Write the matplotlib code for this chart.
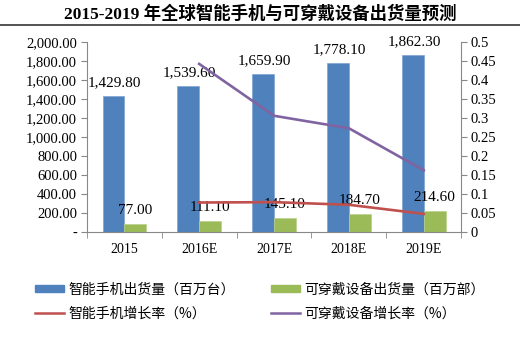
import matplotlib.pyplot as plt
import matplotlib.lines as mlines
import matplotlib.patches as mpatches
import numpy as np

plt.rcParams['font.family'] = ['Liberation Serif', 'Noto Sans CJK SC']

# data
years = ['2015', '2016E', '2017E', '2018E', '2019E']
phone_ship = [1429.8, 1539.6, 1659.9, 1778.1, 1862.3]
wear_ship = [77.0, 111.1, 145.1, 184.7, 214.6]
phone_growth = [None, 0.077, 0.078, 0.071, 0.047]
wear_growth = [None, 0.443, 0.306, 0.273, 0.162]

blue = '#4F81BD'
green = '#9BBB59'
red = '#C0504D'
purple = '#8064A2'

fig = plt.figure(figsize=(5.2, 3.37), dpi=100)
fig.text(0.5, 0.958, '2015-2019 年全球智能手机与可穿戴设备出货量预测', ha='center', va='center',
         fontsize=12.5, fontweight='bold', family=['Liberation Serif', 'Noto Sans CJK SC'])
fig.add_artist(mlines.Line2D([0, 1], [0.925, 0.925], color='#444444', lw=1.3))

ax = fig.add_axes([0.167, 0.3125, 0.72, 0.562])
ax2 = ax.twinx()

x = np.arange(len(years))
w = 0.29
ax.bar(x - 0.145, phone_ship, w, color=blue, edgecolor='#7fa3d0', linewidth=0.5, zorder=2)
ax.bar(x + 0.145, wear_ship, w, color=green, edgecolor='#b8d08a', linewidth=0.5, zorder=2)

for i in range(len(years)):
    ax.annotate(f'{phone_ship[i]:,.2f}', (x[i] - 0.13, phone_ship[i]), xytext=(0, 5),
                textcoords='offset points', ha='center', va='bottom', fontsize=11, zorder=5)
    ax.annotate(f'{wear_ship[i]:,.2f}', (x[i] + 0.145, wear_ship[i]), xytext=(0, 5),
                textcoords='offset points', ha='center', va='bottom', fontsize=11, zorder=5)

ax2.plot(x[1:], phone_growth[1:], color=red, lw=1.9, zorder=3)
ax2.plot(x[1:], wear_growth[1:], color=purple, lw=1.9, zorder=3)

ax.set_xlim(-0.5, 4.5)
ax.set_ylim(0, 2000)
ax2.set_ylim(0, 0.5)

ax.set_yticks(np.arange(0, 2001, 200))
ax.set_yticklabels(['-'] + [f'{v:,.2f}' for v in np.arange(200, 2001, 200)])
ax2.set_yticks(np.arange(0, 0.51, 0.05))
ax2.set_yticklabels(['0'] + [f'{v:g}' for v in np.round(np.arange(0.05, 0.51, 0.05), 2)])

ax.set_xticks(x)
ax.set_xticklabels(years)
ax.set_xticks(np.arange(-0.5, 5, 1), minor=True)
ax.tick_params(axis='x', which='major', length=0, labelsize=10, pad=8)
ax.tick_params(axis='x', which='minor', length=4, color='#888888')
ax.tick_params(axis='y', labelsize=10.5, length=4, color='#888888', pad=3)
ax2.tick_params(axis='y', labelsize=10.5, length=4, color='#888888', pad=3)

for a in (ax, ax2):
    a.spines['top'].set_visible(False)
    for s in ('left', 'right', 'bottom'):
        a.spines[s].set_color('#888888')
ax.spines['right'].set_visible(False)
ax2.spines['left'].set_visible(False)
ax2.spines['bottom'].set_visible(False)

handles = [mpatches.Patch(color=blue, label='智能手机出货量（百万台）'),
           mlines.Line2D([], [], color=red, lw=1.8, label='智能手机增长率（%）'),
           mpatches.Patch(color=green, label='可穿戴设备出货量（百万部）'),
           mlines.Line2D([], [], color=purple, lw=1.8, label='可穿戴设备增长率（%）')]
fig.legend(handles=handles, loc='center', bbox_to_anchor=(0.5, 0.105), ncol=2, frameon=False,
           handlelength=2.1, handleheight=0.5, columnspacing=2.6, labelspacing=0.75,
           handletextpad=0.3, prop={'family': ['Noto Sans CJK SC'], 'size': 10})

fig.savefig('out.png', dpi=100)
